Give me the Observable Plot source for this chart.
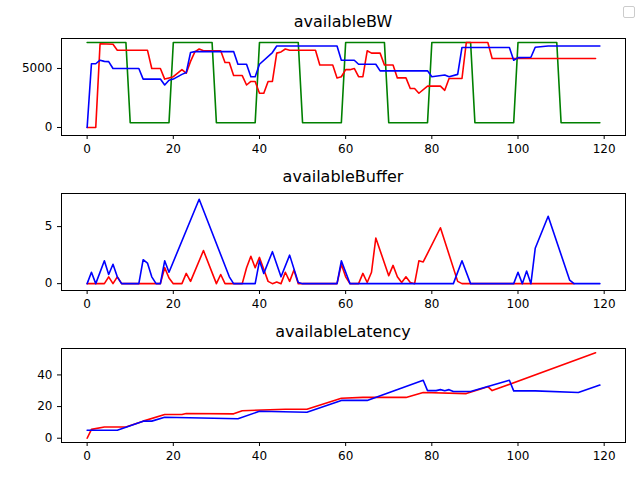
<!DOCTYPE html>
<html>
<head>
<meta charset="utf-8">
<script src="https://cdn.jsdelivr.net/npm/d3@7"></script>
<script src="https://cdn.jsdelivr.net/npm/@observablehq/plot@0.6"></script>
<style>
  body { margin: 0; background: #fff; font-family: "DejaVu Sans", sans-serif; }
  #fig { position: relative; width: 640px; height: 480px; overflow: hidden; }
  .panel { position: absolute; left: 0; }
  .title { position: absolute; left: 61px; width: 564px; text-align: center; font-size: 16px; color: #000; }
  #legend { position: absolute; left: 623px; top: 6px; width: 10px; height: 10px; border: 1px solid #ccc; border-radius: 2px; }
</style>
</head>
<body>
<div id="fig"><div id="legend"></div></div>
<script>
// vertices [x, value]
const bwGreen = [[0,7200],[9,7200],[10,400],[19,400],[20,7200],[29,7200],[30,400],[39,400],[40,7200],[49,7200],[50,400],[59,400],[60,7200],[69,7200],[70,400],[79,400],[80,7200],[89,7200],[90,400],[99,400],[100,7200],[109,7200],[110,400],[119,400]];
const bwRed = [[0,0],[2,0],[3,7100],[6,7050],[7,6550],[14,6550],[15,5000],[17,5000],[18,4100],[19,4200],[20,4300],[21,4600],[22,4900],[23,4600],[24,5600],[25,6400],[26,6650],[27,6500],[31,6500],[32,5500],[33,5500],[34,4400],[36,4400],[37,3600],[38,3900],[39,3900],[40,2900],[41,2900],[42,3900],[43,3900],[44,6300],[45,6400],[46,6650],[47,6550],[53,6550],[54,5300],[57,5300],[58,4200],[59,4300],[60,4900],[61,4900],[62,5000],[63,4300],[64,4300],[65,6500],[66,6300],[68,6300],[69,5300],[71,5300],[72,4200],[74,4200],[75,3300],[76,3300],[77,2900],[79,3500],[81,3500],[82,3500],[83,3150],[84,4150],[87,4150],[88,7200],[93,7200],[94,5850],[118,5850]];
const bwBlue = [[0,0],[1,5400],[2,5400],[3,5700],[4,5600],[5,5580],[6,5000],[12,5000],[13,4100],[17,4100],[18,3600],[19,4000],[20,4100],[22,4500],[23,4650],[24,6350],[25,6430],[34,6430],[35,5360],[37,5360],[38,4300],[39,4300],[40,5360],[43,6350],[44,6900],[58,6900],[59,5700],[62,5700],[63,5360],[67,5360],[68,4800],[79,4800],[80,4300],[83,4450],[84,4300],[86,4500],[87,6780],[98,6780],[99,5700],[100,5920],[103,5950],[104,6800],[107,6900],[119,6900]];

const bufRed = [[0,0],[4,0],[5,0.6],[6,0],[7,0.6],[8,0],[17,0],[18,1.4],[19,0.5],[20,0],[22,0],[23,0.9],[24,0.2],[27,2.9],[30,0],[31,0.8],[32,0],[36,0],[37,1.4],[38,2.4],[39,1.4],[40,2.3],[42,0.2],[43,0],[44,0.15],[45,0],[46,1.0],[47,0.2],[48,1.2],[49,0],[58,0],[59,1.7],[60,0.6],[61,0],[63,0],[64,0.9],[65,0.1],[66,1.0],[67,4.0],[70,0.7],[71,1.6],[72,0.6],[73,0.1],[74,0.6],[75,0.1],[76,0],[77,2.0],[78,1.9],[82,4.9],[86,0.2],[87,0],[113,0]];
const bufBlue = [[0,0],[1,1.0],[2,0],[4,2.0],[5,0.8],[6,1.7],[7,0.6],[8,0],[12,0],[13,2.1],[14,1.8],[15,0.6],[16,0],[17,0],[18,2.0],[19,1.0],[26,7.4],[33,0.6],[34,0],[39,0],[40,2.0],[41,0.9],[43,2.8],[45,0.6],[47,2.5],[49,0.1],[50,0],[58,0],[59,2.0],[61,0],[85,0],[87,2.0],[89,0],[99,0],[100,1.0],[101,0],[102,1.1],[103,0],[104,3.1],[107,5.9],[112,0.3],[113,0],[119,0]];

const latRed = [[0,0],[1,5.6],[4,7.1],[9,7.1],[13,10.8],[18,15],[22,15],[23,15.6],[34,15.4],[36,17.4],[46,18.3],[51,18.3],[59,25.3],[64,25.8],[74,25.8],[78,28.9],[88,28.2],[93,32.6],[94,30.1],[118,54]];
const latBlue = [[0,5],[7,5],[13,10.8],[15,10.8],[18,13.3],[35,12.3],[40,17],[51,16.4],[59,23.9],[65,23.9],[78,36.6],[79,30.1],[81,30.1],[82,30.7],[83,30],[84,30.7],[85,29.5],[89,29.5],[98,36.6],[99,29.9],[104,29.9],[114,28.9],[119,33.6]];

const xTicks = [0, 20, 40, 60, 80, 100, 120];

const panels = [
  { title: "availableBW", top: 0, height: 170, mb: 35, y: [-680, 7540], ticks: [0, 5000],
    series: [[bwGreen, "green"], [bwRed, "red"], [bwBlue, "blue"]] },
  { title: "availableBuffer", top: 155, height: 170, mb: 35, y: [-0.6, 7.9], ticks: [0, 5],
    series: [[bufRed, "red"], [bufBlue, "blue"]] },
  { title: "availableLatency", top: 310, height: 170, mb: 38, y: [-2.7, 56.7], ticks: [0, 20, 40],
    series: [[latRed, "red"], [latBlue, "blue"]] },
];

const fig = document.getElementById("fig");
for (const p of panels) {
  const chart = Plot.plot({
    width: 640,
    height: p.height,
    marginTop: 38,
    marginBottom: p.mb,
    marginLeft: 61,
    marginRight: 15,
    style: { fontFamily: "DejaVu Sans", fontSize: "12px", color: "#000", background: "transparent" },
    x: { domain: [-5.95, 124.95], ticks: xTicks, label: null, tickSize: 4 },
    y: { domain: p.y, ticks: p.ticks, label: null, tickSize: 4, tickFormat: d => String(d) },
    marks: [
      ...p.series.map(([data, color]) => Plot.line(data, { x: d => d[0], y: d => d[1], stroke: color, strokeWidth: 1.6 })),
      Plot.frame({ stroke: "#000", strokeWidth: 1 }),
    ],
  });
  chart.classList.add("panel");
  chart.style.top = p.top + "px";
  fig.append(chart);
  const t = document.createElement("div");
  t.className = "title";
  t.style.top = (p.top + 12) + "px";
  t.textContent = p.title;
  fig.append(t);
}
</script>
</body>
</html>
